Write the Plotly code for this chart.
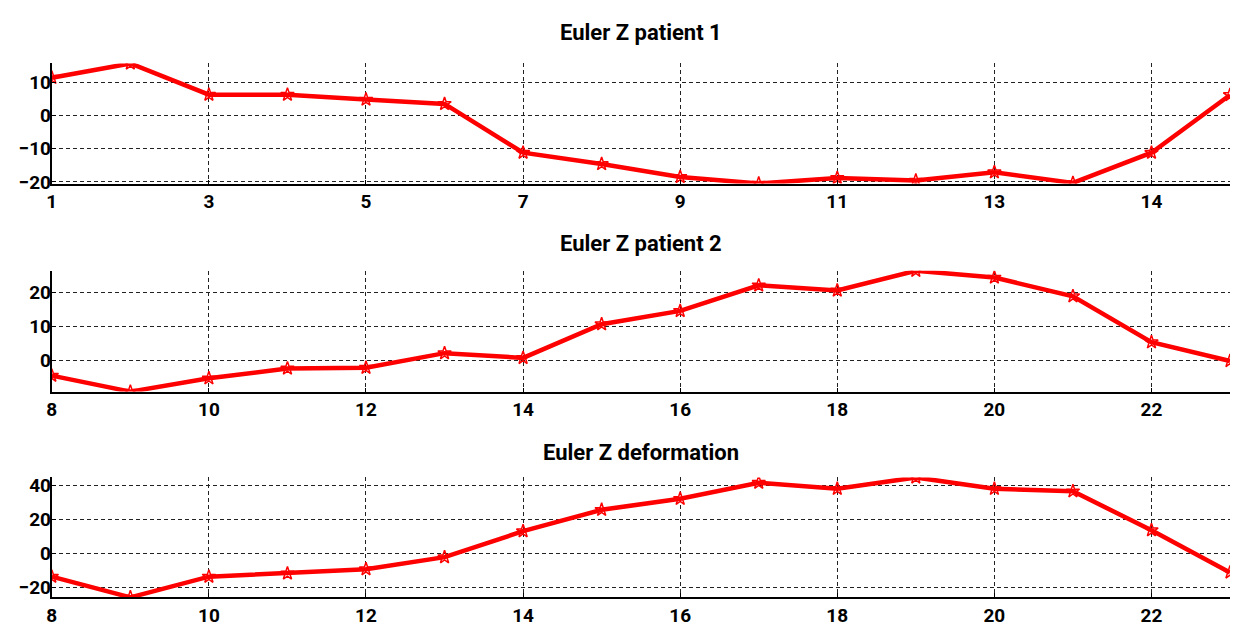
import plotly.graph_objects as go

# Frame indices for each panel
frames_p1 = list(range(1, 17))
frames_p2 = list(range(8, 24))

# Euler Z angles (degrees)
euler_z_patient1 = [11.4, 15.7, 6.3, 6.3, 4.8, 3.5, -11.2, -14.6,
                    -18.5, -20.5, -18.8, -19.6, -17.1, -20.3, -11.2, 6.2]
euler_z_patient2 = [-4.5, -9.2, -5.3, -2.4, -2.2, 2.1, 0.7, 10.6,
                    14.5, 22.0, 20.5, 26.3, 24.3, 18.8, 5.3, -0.2]
euler_z_deformation = [-13.6, -25.8, -13.6, -11.7, -9.2, -2.1, 13.2, 25.8,
                       32.3, 41.8, 38.2, 44.9, 38.2, 36.7, 13.8, -11.1]

# Tick labels
p1_tickvals = [1, 3, 5, 7, 9, 11, 13, 15]
p1_ticktext = ["1", "3", "5", "7", "9", "11", "13", "14"]
p2_tickvals = [8, 10, 12, 14, 16, 18, 20, 22]
p1_ytick = [-20, -10, 0, 10]
p2_ytick = [0, 10, 20]
def_ytick = [-20, 0, 20, 40]

titles = ["Euler Z patient 1", "Euler Z patient 2", "Euler Z deformation"]

W, H = 1235, 638
FONT = "Liberation Sans Narrow, Roboto, sans-serif"

panels = [
    (frames_p1, euler_z_patient1, p1_tickvals, p1_ticktext, p1_ytick, (61.7, 184.3), 30),
    (frames_p2, euler_z_patient2, p2_tickvals, None, p2_ytick, (273.3, 396.7), 245),
    (frames_p2, euler_z_deformation, p2_tickvals, None, def_ytick, (484.3, 606.7), 459),
]

x_dom = [47 / W, 1230 / W]

fig = go.Figure()
annotations = []
for i, (xs, ys, xtv, xtt, ytv, (top_px, bot_px), title_px) in enumerate(panels):
    sfx = "" if i == 0 else str(i + 1)
    fig.add_trace(go.Scatter(
        x=xs, y=ys, mode="lines+markers",
        line=dict(color="#ff0000", width=4.5),
        marker=dict(symbol="star-open", size=10, color="#ff0000",
                    line=dict(color="#ff0000", width=1.5)),
        xaxis="x" + sfx, yaxis="y" + sfx, showlegend=False,
    ))
    axis_common = dict(
        showgrid=True, gridcolor="#222222", griddash="4px,3px", gridwidth=1,
        showline=True, linecolor="black", linewidth=2, mirror=False,
        zeroline=False, ticks="inside", ticklen=4, tickcolor="black",
        tickfont=dict(family=FONT, size=19, color="black", weight="bold"),
    )
    xa = dict(axis_common, domain=x_dom, range=[xs[0], xs[-1]],
              tickmode="array", tickvals=xtv,
              anchor="y" + sfx)
    if xtt is not None:
        xa["ticktext"] = xtt
    ya = dict(axis_common, domain=[1 - bot_px / H, 1 - top_px / H],
              range=[min(ys), max(ys)], tickmode="array", tickvals=ytv,
              ticklabelstandoff=-5, anchor="x" + sfx)
    fig.update_layout({"xaxis" + sfx: xa, "yaxis" + sfx: ya})
    annotations.append(dict(
        text=f"<b>{titles[i]}</b>", xref="paper", yref="paper",
        x=638.5 / W, y=1 - title_px / H, xanchor="center", yanchor="middle",
        showarrow=False, font=dict(family=FONT, size=22, color="black"),
    ))

fig.update_layout(
    width=W, height=H, autosize=False,
    margin=dict(l=0, r=0, t=0, b=0),
    paper_bgcolor="white", plot_bgcolor="white",
    annotations=annotations,
)

fig.write_html("out.html")
